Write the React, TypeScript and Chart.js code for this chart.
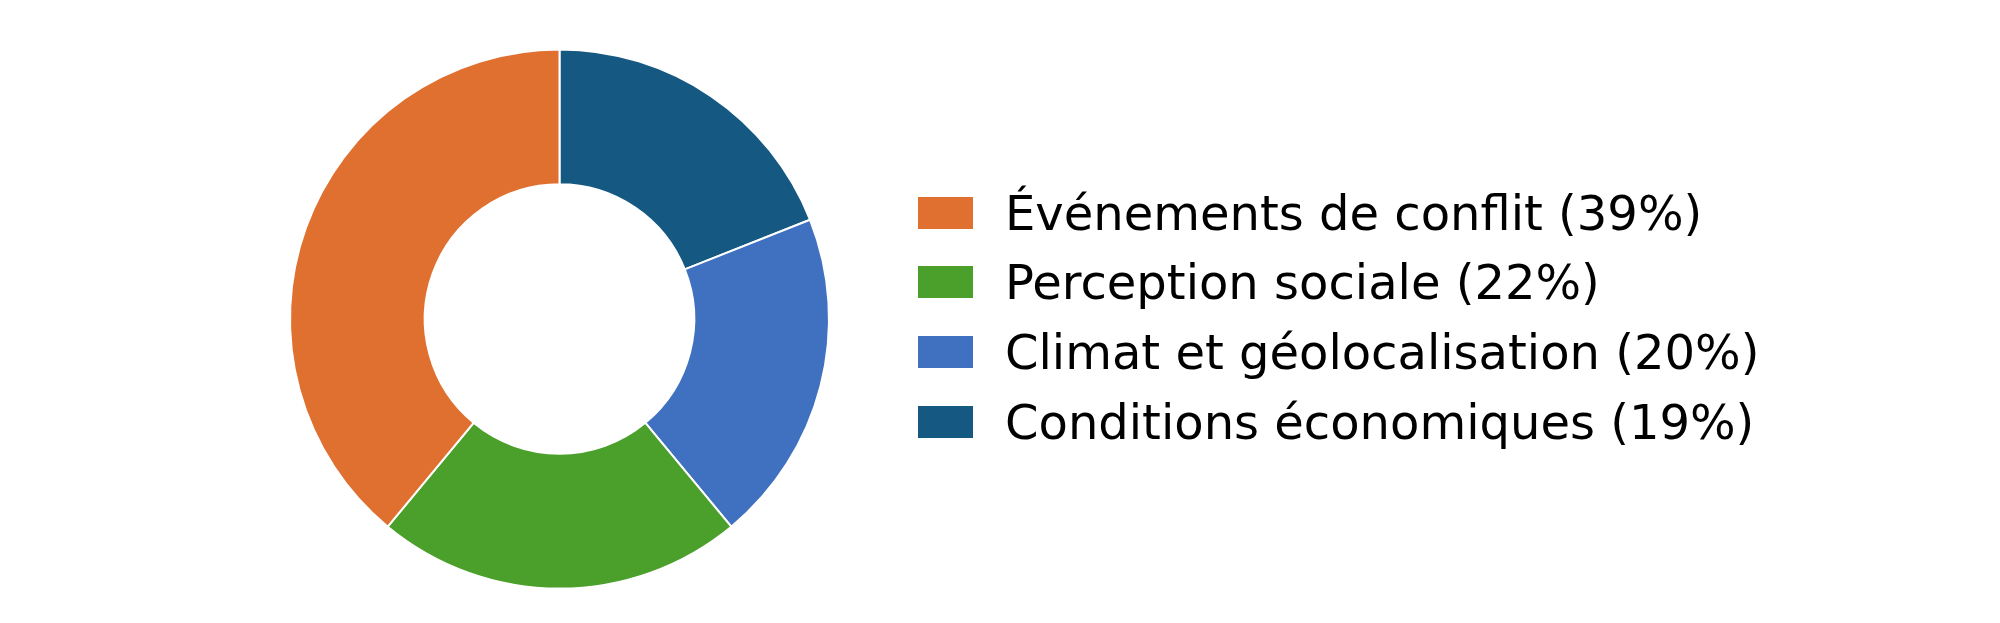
import React, { useEffect, useRef } from "react";
import { Chart, registerables } from "chart.js";

Chart.register(...registerables);

// Legend order (as displayed)
const legendLabels = [
  "Événements de conflit (39%)",
  "Perception sociale (22%)",
  "Climat et géolocalisation (20%)",
  "Conditions économiques (19%)",
];
const legendColors = ["#E07030", "#4AA02B", "#4070C0", "#155882"];

// Drawing order (clockwise from top)
const sliceLabels = [
  "Conditions économiques",
  "Climat et géolocalisation",
  "Perception sociale",
  "Événements de conflit",
];
const sliceValues = [19, 20, 22, 39];
const sliceColors = ["#155882", "#4070C0", "#4AA02B", "#E07030"];

export default function App() {
  const ref = useRef<HTMLCanvasElement | null>(null);

  useEffect(() => {
    document.body.style.margin = "0";
    const ctx = ref.current;
    if (!ctx) return;
    const chart = new Chart(ctx, {
      type: "doughnut",
      data: {
        labels: sliceLabels,
        datasets: [
          {
            data: sliceValues,
            backgroundColor: sliceColors,
            borderColor: "#ffffff",
            borderWidth: 2,
            hoverOffset: 0,
          },
        ],
      },
      options: {
        responsive: false,
        animation: false,
        cutout: "50%",
        layout: { padding: { left: 289, top: 48, right: 2000 - 830, bottom: 623 - 590 } },
        plugins: {
          legend: { display: false },
          tooltip: { enabled: false },
        },
      },
    });
    return () => chart.destroy();
  }, []);

  return (
    <div style={{ position: "absolute", left: 0, top: 0, width: 2000, height: 623, background: "#fff" }}>
      <canvas ref={ref} width={2000} height={623} style={{ position: "absolute", left: 0, top: 0 }} />
      <div
        style={{
          position: "absolute",
          left: 918,
          top: 178,
          fontFamily: "'DejaVu Sans', sans-serif",
          fontSize: 48,
          color: "#000",
        }}
      >
        {legendLabels.map((l, i) => (
          <div key={l} style={{ display: "flex", alignItems: "center", height: 69.6 }}>
            <div style={{ width: 55, height: 32, background: legendColors[i], marginRight: 32 }} />
            <span style={{ lineHeight: "56px", whiteSpace: "nowrap" }}>{l}</span>
          </div>
        ))}
      </div>
    </div>
  );
}
